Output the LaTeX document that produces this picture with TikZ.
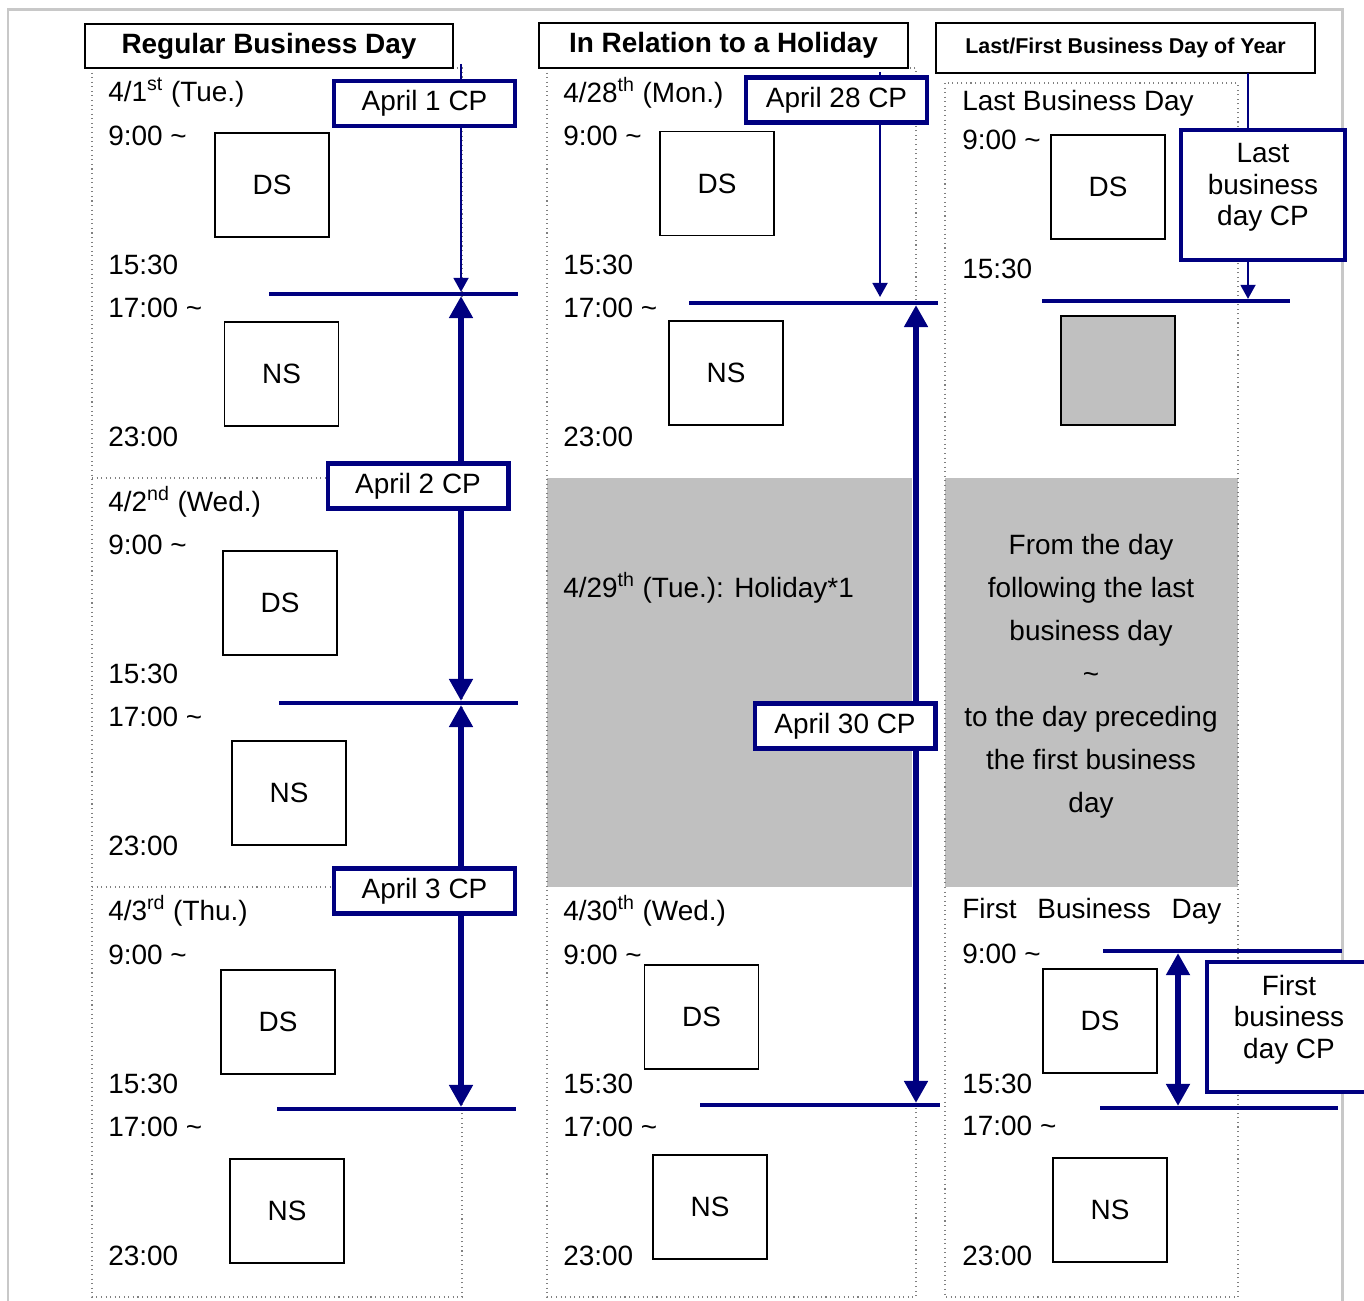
\documentclass[tikz,border=0pt]{standalone}
\usepackage{fontspec}
\setmainfont{Liberation Sans}
\usetikzlibrary{arrows.meta}
\definecolor{cpblau}{RGB}{0,0,128}
\definecolor{feiertag}{RGB}{192,192,192}
\definecolor{rahmen}{RGB}{200,200,200}

\begin{document}
\begin{tikzpicture}
	[
	x=0.02cm, y=-0.02cm, font=\fontsize{15.9}{19}\selectfont,
	%Voreinstellungen
	kasten/.style={draw, line width=0.8pt, minimum width=2.28cm, minimum height=2.08cm, inner sep=0pt},
	cpkasten/.style={draw=cpblau, line width=2.3pt, fill=white, minimum width=3.62cm, minimum height=0.9cm, inner sep=0pt},
	cpgross/.style={cpkasten, minimum width=3.28cm, minimum height=2.6cm},
	cptext/.style={label distance=0pt, yshift=0.15cm, align=center, font=\fontsize{15.9}{17.9}\selectfont},
	titel/.style={draw, line width=0.8pt, fill=white, minimum height=0.88cm, inner sep=0pt, font=\fontsize{15.9}{19}\selectfont\bfseries},
	zeit/.style={anchor=west, inner sep=0pt},
	linie/.style={cpblau, line width=2.3pt},
	duenn/.style={cpblau, line width=1.2pt, -{Triangle[width=8.5pt,length=8pt]}},
	dick/.style={cpblau, line width=3pt, {Triangle[width=13pt,length=12.5pt]}-{Triangle[width=13pt,length=12.5pt]}},
	spalte/.style={gray, dotted, line width=0.6pt}
	]
	
	\useasboundingbox (0,0) rectangle (1364,1300);
	
	%Rahmen aussen
	\draw[rahmen, line width=1.7pt] (8,1310) -- (8,10) -- (1342,10) -- (1342,1310);
	
	%Feiertag grau
	\fill[feiertag] (547,478) rectangle (912,887);
	\fill[feiertag] (945,478) rectangle (1238,887);
	
	%Spalten gepunktet
	\draw[spalte] (92,68) rectangle (462,1297);
	\draw[spalte] (92,478) -- (462,478);
	\draw[spalte] (92,887) -- (462,887);
	\draw[spalte] (547,68) rectangle (916,1297);
	\draw[spalte] (945,83) rectangle (1238,1297);
	
	%Ueberschriften
	\node[titel, minimum width=7.36cm] (tRegular) at (269,46) {Regular Business Day};
	\node[titel, minimum width=7.38cm, minimum height=0.9cm] (tHoliday) at (723.5,45.5) {In Relation to a Holiday};
	\node[titel, minimum width=7.58cm, minimum height=1cm, font=\fontsize{12.2}{14}\selectfont\bfseries] (tJahr) at (1125.5,48) {Last/First Business Day of Year};
	
	%Uhrzeiten
	\foreach \x/\dy/\n in {108/0/a, 108/409/b, 108/819/c, 563/0/d, 563/819/e}
	{
		\node[zeit] (neun\n) at (\x,136+\dy) {9:00 \textasciitilde};
		\node[zeit] (ds\n) at (\x,265+\dy) {15:30};
		\node[zeit] (ns\n) at (\x,308+\dy) {17:00 \textasciitilde};
		\node[zeit] (ende\n) at (\x,437+\dy) {23:00};
	}
	
	%Tage
	\node[zeit] (tagA) at (108,93) {4/1\textsuperscript{st} (Tue.)};
	\node[zeit] (tagB) at (108,502) {4/2\textsuperscript{nd} (Wed.)};
	\node[zeit] (tagC) at (108,911) {4/3\textsuperscript{rd} (Thu.)};
	\node[zeit] (tagD) at (563,93) {4/28\textsuperscript{th} (Mon.)};
	\node[zeit] (tagF) at (563,588) {4/29\textsuperscript{th} (Tue.): Holiday*1};
	\node[zeit] (tagE) at (563,911) {4/30\textsuperscript{th} (Wed.)};
	
	%Spalte 3 Texte
	\node[zeit] (letzter) at (962,103) {Last Business Day};
	\node[zeit] (neunL) at (962,140) {9:00 \textasciitilde};
	\node[zeit] (dsL) at (962,269) {15:30};
	\node[zeit] (erster) at (962,911) {\makebox[5.18cm][s]{First Business Day}};
	\node[zeit] (neunE) at (962,954) {9:00 \textasciitilde};
	\node[zeit] (dsE) at (962,1084) {15:30};
	\node[zeit] (nsE) at (962,1126) {17:00 \textasciitilde};
	\node[zeit] (endeE) at (962,1256) {23:00};
	\node[align=center, inner sep=0pt, font=\fontsize{15.9}{24.5}\selectfont] (zwischen) at (1091,676)
		{From the day\\following the last\\business day\\\textasciitilde\\to the day preceding\\the first business\\day};
	
	%DS und NS Kaesten
	\node[kasten] (dsA) at (272,185) {DS};
	\node[kasten] (nsA) at (281.5,374) {NS};
	\node[kasten] (dsB) at (280,603) {DS};
	\node[kasten] (nsB) at (289,793) {NS};
	\node[kasten] (dsC) at (278,1022) {DS};
	\node[kasten] (nsC) at (287,1211) {NS};
	\node[kasten] (dsD) at (717,183.5) {DS};
	\node[kasten] (nsD) at (726,373) {NS};
	\node[kasten] (dsE) at (701.5,1017) {DS};
	\node[kasten] (nsE) at (710,1207) {NS};
	\node[kasten] (dsL) at (1108,187) {DS};
	\node[kasten, fill=feiertag, minimum height=2.18cm] (grau) at (1118,370.5) {};
	\node[kasten] (dsF) at (1100,1021) {DS};
	\node[kasten] (nsF) at (1110,1210) {NS};
	
	%Punkte fuer Linien
	\coordinate (l1a) at (269,294);  \coordinate (l1b) at (518,294);
	\coordinate (l2a) at (279,703);  \coordinate (l2b) at (518,703);
	\coordinate (l3a) at (277,1109); \coordinate (l3b) at (516,1109);
	\coordinate (l4a) at (689,303);  \coordinate (l4b) at (938,303);
	\coordinate (l5a) at (700,1105); \coordinate (l5b) at (940,1105);
	\coordinate (l6a) at (1042,301); \coordinate (l6b) at (1290,301);
	\coordinate (l7a) at (1103,951); \coordinate (l7b) at (1342,951);
	\coordinate (l8a) at (1100,1108); \coordinate (l8b) at (1338,1108);
	\coordinate (pA) at (461,64);
	\coordinate (pB) at (880,72);
	\coordinate (pC) at (1248,73);
	\coordinate (pD) at (916,303);
	\coordinate (pE) at (1178,951);
	
	%duenne Pfeile
	\draw[duenn, shorten >=1.2pt] (pA) -- (pA |- l1a);
	\draw[duenn, shorten >=3.4pt] (pB) -- (pB |- l4a);
	
	%dicke Pfeile
	\draw[dick, shorten <=1.2pt, shorten >=1.2pt] (pA |- l1a) -- (pA |- l2a);
	\draw[dick, shorten <=1.2pt, shorten >=1.2pt] (pA |- l2a) -- (pA |- l3a);
	\draw[dick, shorten <=1.2pt, shorten >=1.2pt] (pD) -- (pD |- l5a);
	\draw[dick, shorten <=1.2pt, shorten >=1.2pt] (pE) -- (pE |- l8a);
	
	%Linien
	\draw[linie] (l1a) -- (l1b);
	\draw[linie] (l2a) -- (l2b);
	\draw[linie] (l3a) -- (l3b);
	\draw[linie] (l4a) -- (l4b);
	\draw[linie] (l5a) -- (l5b);
	\draw[linie] (l6a) -- (l6b);
	\draw[linie] (l7a) -- (l7b);
	\draw[linie] (l8a) -- (l8b);
	
	%CP Kaesten
	\node[cpkasten] (cpA) at (424.5,103.5) {April 1 CP};
	\node[cpkasten] (cpD) at (836.5,100) {April 28 CP};
	\node[cpkasten] (cpB) at (418,486) {April 2 CP};
	\node[cpkasten] (cpF) at (845,726) {April 30 CP};
	\node[cpkasten] (cpC) at (424.5,891) {April 3 CP};
	\node[cpgross, label={[cptext]center:{Last\\business\\day CP}}] (cpLetzter) at (1263,195) {};
	\node[cpgross, label={[cptext]center:{First\\business\\day CP}}] (cpErster) at (1289,1027) {};
	
	%Pfeil letzter Tag
	\draw[cpblau, line width=1.2pt] (pC) -- (pC |- cpLetzter.north);
	\draw[duenn, shorten >=1.2pt] (pC |- cpLetzter.south) -- (pC |- l6a);
\end{tikzpicture}
\end{document}
